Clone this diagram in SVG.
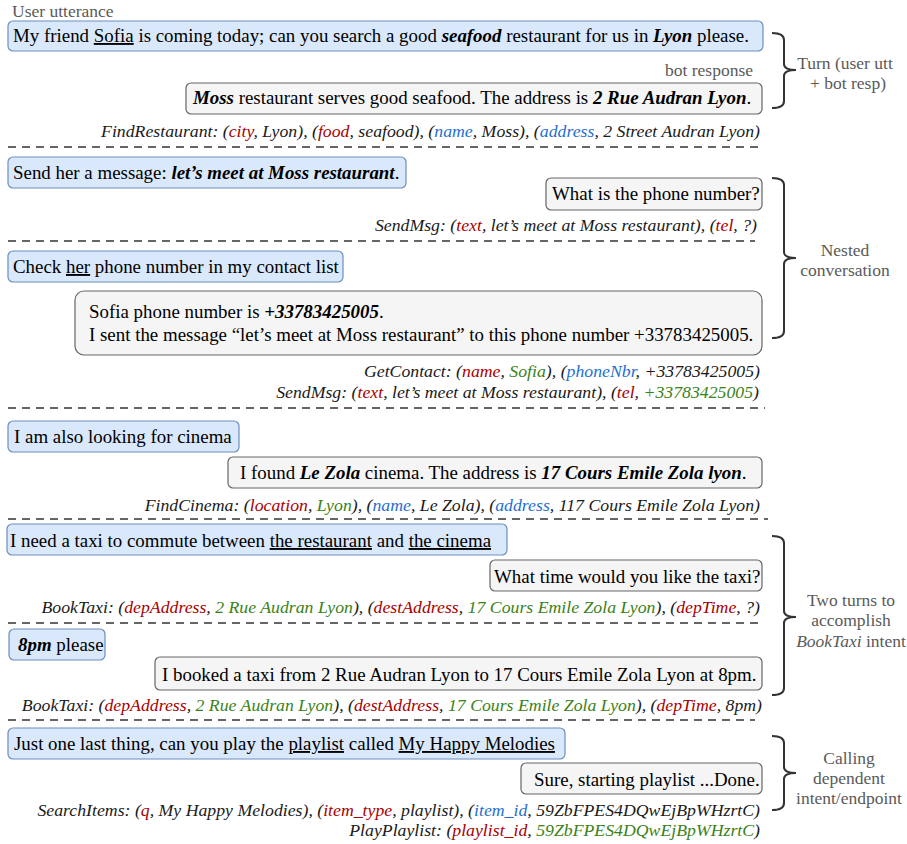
<svg xmlns="http://www.w3.org/2000/svg" width="907" height="844" viewBox="0 0 907 844">
<style>
.u{fill:#dae8fc;stroke:#6c8ebf;stroke-width:1.2}
.b{fill:#f5f5f5;stroke:#666666;stroke-width:1.2}
.t{font-family:"Liberation Serif","Times New Roman",serif;font-size:18.9px;fill:#000}
.a{font-family:"Liberation Serif","Times New Roman",serif;font-size:17.75px;font-style:italic;fill:#1a1a1a;text-anchor:end}
.g{font-family:"Liberation Serif","Times New Roman",serif;font-size:17.5px;fill:#5a5a5a}
.gc{font-family:"Liberation Serif","Times New Roman",serif;font-size:17.5px;fill:#5a5a5a;text-anchor:middle}
.bi{font-weight:bold;font-style:italic}
.ul{text-decoration:underline}
.r{fill:#a80000}
.bl{fill:#1f6fd0}
.gr{fill:#3a8218}
.d{stroke:#333;stroke-width:1.6;stroke-dasharray:8 6;fill:none}
.br{stroke:#333;stroke-width:2;fill:none}
</style>
<text class="g" x="12" y="17">User utterance</text>
<text class="g" x="665" y="76">bot response</text>
<g id="n1"><rect class="u" x="8" y="21" width="755" height="30" rx="5"/><text class="t" x="13" y="42">My friend <tspan class="ul">Sofia</tspan> is coming today; can you search a good <tspan class="bi">seafood</tspan> restaurant for us in <tspan class="bi">Lyon</tspan> please.</text></g>
<g id="n2"><rect class="b" x="186" y="83" width="576" height="31" rx="5"/><text class="t" x="193" y="104"><tspan class="bi">Moss</tspan> restaurant serves good seafood. The address is <tspan class="bi">2 Rue Audran Lyon</tspan>.</text></g>
<text class="a" x="760" y="137">FindRestaurant: (<tspan class="r">city</tspan>, Lyon), (<tspan class="r">food</tspan>, seafood), (<tspan class="bl">name</tspan>, Moss), (<tspan class="bl">address</tspan>, 2 Street Audran Lyon)</text>
<g id="n3"><rect class="u" x="8" y="157" width="398" height="31" rx="5"/><text class="t" x="13" y="179">Send her a message: <tspan class="bi">let’s meet at Moss restaurant</tspan>.</text></g>
<g id="n4"><rect class="b" x="546" y="178" width="216" height="32" rx="5"/><text class="t" x="552" y="200">What is the phone number?</text></g>
<text class="a" x="757" y="231">SendMsg: (<tspan class="r">text</tspan>, let’s meet at Moss restaurant), (<tspan class="r">tel</tspan>, ?)</text>
<g id="n5"><rect class="u" x="8" y="251" width="335" height="31" rx="5"/><text class="t" x="13" y="273">Check <tspan class="ul">her</tspan> phone number in my contact list</text></g>
<g id="n6"><rect class="b" x="75" y="291" width="687" height="64" rx="9"/><text class="t" x="89" y="318">Sofia phone number is <tspan class="bi">+33783425005</tspan>.</text><text class="t" x="89" y="341">I sent the message “let’s meet at Moss restaurant” to this phone number +33783425005.</text></g>
<text class="a" x="760" y="377">GetContact: (<tspan class="r">name</tspan>, <tspan class="gr">Sofia</tspan>), (<tspan class="bl">phoneNbr</tspan>, +33783425005)</text>
<text class="a" x="759" y="398">SendMsg: (<tspan class="r">text</tspan>, let’s meet at Moss restaurant), (<tspan class="r">tel</tspan>, <tspan class="gr">+33783425005</tspan>)</text>
<g id="n7"><rect class="u" x="8" y="421" width="231" height="31" rx="5"/><text class="t" x="14" y="443">I am also looking for cinema</text></g>
<g id="n8"><rect class="b" x="228" y="457" width="534" height="31" rx="5"/><text class="t" x="240" y="479">I found <tspan class="bi">Le Zola</tspan> cinema. The address is <tspan class="bi">17 Cours Emile Zola lyon</tspan>.</text></g>
<text class="a" x="760" y="511">FindCinema: (<tspan class="r">location</tspan>, <tspan class="gr">Lyon</tspan>), (<tspan class="bl">name</tspan>, Le Zola), (<tspan class="bl">address</tspan>, 117 Cours Emile Zola Lyon)</text>
<g id="n9"><rect class="u" x="7" y="524" width="500" height="31" rx="5"/><text class="t" x="10" y="547">I need a taxi to commute between <tspan class="ul">the restaurant</tspan> and <tspan class="ul">the cinema</tspan></text></g>
<g id="n10"><rect class="b" x="490" y="560" width="272" height="31" rx="5"/><text class="t" x="494" y="583">What time would you like the taxi?</text></g>
<text class="a" x="760" y="613">BookTaxi: (<tspan class="r">depAddress</tspan>, <tspan class="gr">2 Rue Audran Lyon</tspan>), (<tspan class="r">destAddress</tspan>, <tspan class="gr">17 Cours Emile Zola Lyon</tspan>), (<tspan class="r">depTime</tspan>, ?)</text>
<g id="n11"><rect class="u" x="9" y="629" width="96" height="31" rx="5"/><text class="t" x="18" y="651"><tspan class="bi">8pm</tspan> please</text></g>
<g id="n12"><rect class="b" x="155" y="657" width="607" height="33" rx="5"/><text class="t" x="162" y="681">I booked a taxi from 2 Rue Audran Lyon to 17 Cours Emile Zola Lyon at 8pm.</text></g>
<text class="a" x="762" y="711">BookTaxi: (<tspan class="r">depAddress</tspan>, <tspan class="gr">2 Rue Audran Lyon</tspan>), (<tspan class="r">destAddress</tspan>, <tspan class="gr">17 Cours Emile Zola Lyon</tspan>), (<tspan class="r">depTime</tspan>, 8pm)</text>
<g id="n13"><rect class="u" x="8" y="728" width="557" height="31" rx="5"/><text class="t" x="14" y="750">Just one last thing, can you play the <tspan class="ul">playlist</tspan> called <tspan class="ul">My Happy Melodies</tspan></text></g>
<g id="n14"><rect class="b" x="521" y="763" width="241" height="31" rx="5"/><text class="t" x="534" y="786">Sure, starting playlist ...Done.</text></g>
<text class="a" x="760" y="816">SearchItems: (<tspan class="r">q</tspan>, My Happy Melodies), (<tspan class="r">item_type</tspan>, playlist), (<tspan class="bl">item_id</tspan>, 59ZbFPES4DQwEjBpWHzrtC)</text>
<text class="a" x="760" y="836">PlayPlaylist: (<tspan class="r">playlist_id</tspan>, <tspan class="gr">59ZbFPES4DQwEjBpWHzrtC</tspan>)</text>
<g id="connectors">
<line class="d" x1="8" y1="147" x2="760" y2="147"/>
<line class="d" x1="8" y1="241" x2="755" y2="241"/>
<line class="d" x1="8" y1="408" x2="765" y2="408"/>
<line class="d" x1="8" y1="519" x2="768" y2="519"/>
<line class="d" x1="8" y1="623" x2="762" y2="623"/>
<line class="d" x1="8" y1="720" x2="755" y2="720"/>
<path class="br" d="M772,33 Q784,33 784,40 L784,64 Q784,70 796,70 Q784,70 784,76 L784,101 Q784,108 772,108"/>
<path class="br" d="M772,178 Q784,178 784,185 L784,252 Q784,258 796,258 Q784,258 784,264 L784,331 Q784,338 772,338"/>
<path class="br" d="M772,536 Q784,536 784,543 L784,611 Q784,617 796,617 Q784,617 784,623 L784,688 Q784,695 772,695"/>
<path class="br" d="M772,736 Q784,736 784,743 L784,767 Q784,773 796,773 Q784,773 784,779 L784,803 Q784,810 772,810"/>
</g>
<text class="gc" x="845" y="69">Turn (user utt</text>
<text class="gc" x="848" y="89">+ bot resp)</text>
<text class="gc" x="845" y="256">Nested</text>
<text class="gc" x="845" y="276">conversation</text>
<text class="gc" x="851" y="606">Two turns to</text>
<text class="gc" x="851" y="626">accomplish</text>
<text class="gc" x="851" y="647"><tspan font-style="italic">BookTaxi</tspan> intent</text>
<text class="gc" x="849" y="764">Calling</text>
<text class="gc" x="849" y="784">dependent</text>
<text class="gc" x="849" y="804">intent/endpoint</text>
</svg>
